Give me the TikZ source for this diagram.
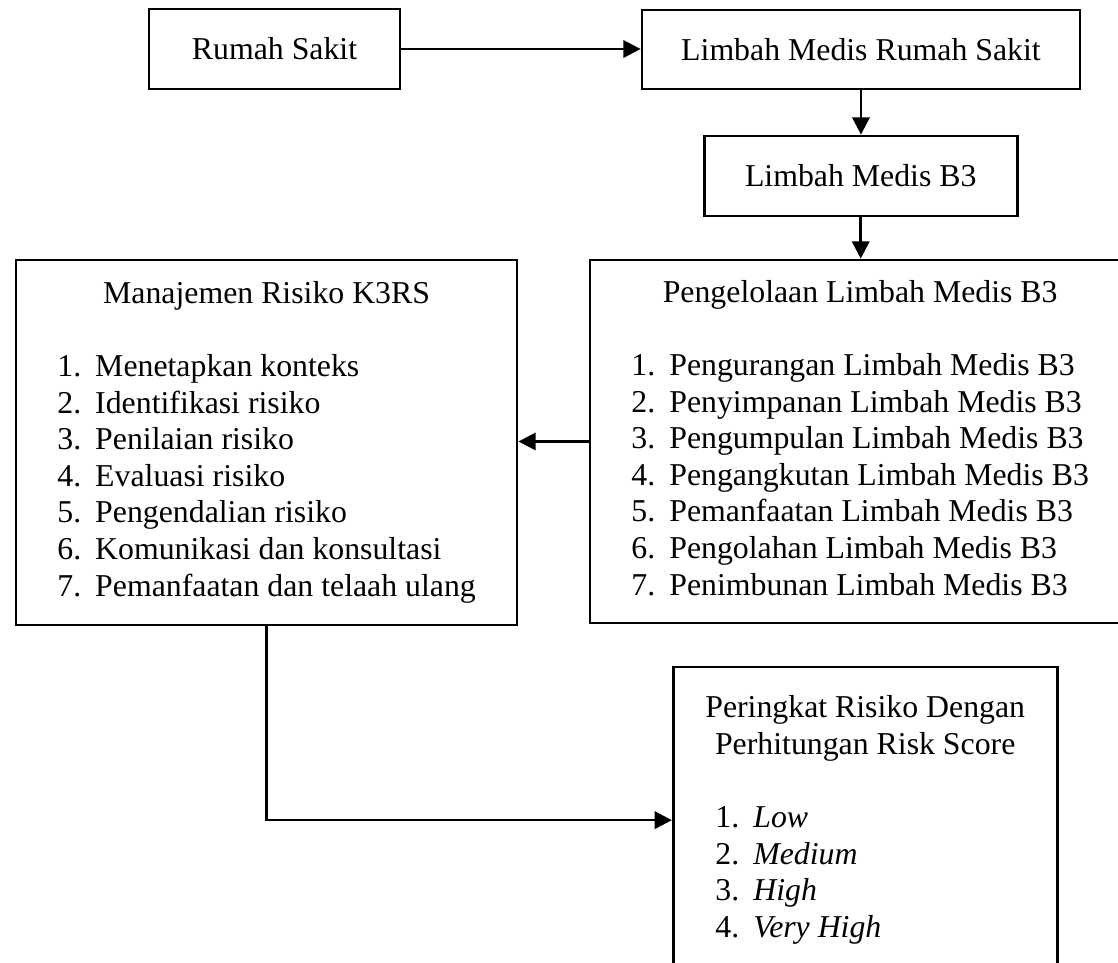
\documentclass[tikz,border=0pt]{standalone}
\usepackage{fontspec}
\setmainfont{Liberation Serif}
\usetikzlibrary{arrows.meta}
\tikzset{
  box/.style={draw,line width=1pt,inner sep=0pt,align=center,font=\fontsize{12}{13.8}\selectfont},
  arrow/.style={-{Triangle[length=6.5pt,width=6.5pt]},line width=1pt},
}

\begin{document}
\begin{tikzpicture}[x=1pt,y=1pt]
  \useasboundingbox (0,0) rectangle (421.9,-363.1);
  % top row
  \node[box,minimum width=94.7pt,minimum height=30.2pt] (rs) at (103.6,-18.5) {Rumah Sakit};
  \node[box,minimum width=165.3pt,minimum height=29.8pt] (lmrs) at (324.9,-18.7) {Limbah Medis Rumah Sakit};
  \node[box,minimum width=118.1pt,minimum height=30.2pt] (lmb3) at (324.8,-66.4) {Limbah Medis B3};
  % the two lists
  \node[box,minimum width=203.8pt,minimum height=137pt] (peng) at (324.6,-166.6) {%
    \begin{tabular}{@{}c@{}}Pengelolaan Limbah Medis B3\\[13.8pt]
    \begin{tabular}{@{}l@{\hspace{5.3pt}}l@{}}
      1.&Pengurangan Limbah Medis B3\\
      2.&Penyimpanan Limbah Medis B3\\
      3.&Pengumpulan Limbah Medis B3\\
      4.&Pengangkutan Limbah Medis B3\\
      5.&Pemanfaatan Limbah Medis B3\\
      6.&Pengolahan Limbah Medis B3\\
      7.&Penimbunan Limbah Medis B3
    \end{tabular}\end{tabular}};
  \node[box,minimum width=189.1pt,minimum height=137.7pt] (mrk) at (100.6,-167) {%
    \begin{tabular}{@{}c@{}}Manajemen Risiko K3RS\\[13.8pt]
    \begin{tabular}{@{}l@{\hspace{5.3pt}}l@{}}
      1.&Menetapkan konteks\\
      2.&Identifikasi risiko\\
      3.&Penilaian risiko\\
      4.&Evaluasi risiko\\
      5.&Pengendalian risiko\\
      6.&Komunikasi dan konsultasi\\
      7.&Pemanfaatan dan telaah ulang
    \end{tabular}\end{tabular}};
  % risk score
  \node[box,minimum width=144.9pt,minimum height=115.5pt] (prs) at (326.5,-309.5) {%
    \begin{tabular}{@{\hspace{3.8pt}}l@{\hspace{5.3pt}}l@{}}
      \multicolumn{2}{@{}c@{}}{Peringkat Risiko Dengan}\\
      \multicolumn{2}{@{}c@{}}{Perhitungan Risk Score}\\[13.8pt]
      1.&\textit{Low}\\
      2.&\textit{Medium}\\
      3.&\textit{High}\\
      4.&\textit{Very High}
    \end{tabular}};
  % connectors
  \draw[arrow] (rs.east) -- (rs.east -| lmrs.west);
  \draw[arrow] (lmrs.south) -- (lmrs.south |- lmb3.north);
  \draw[arrow] (lmb3.south) -- (lmb3.south |- peng.north);
  \draw[arrow] (peng.west) -- (peng.west -| mrk.east);
  \draw[arrow] (mrk.south) |- (prs.west);
\end{tikzpicture}
\end{document}
